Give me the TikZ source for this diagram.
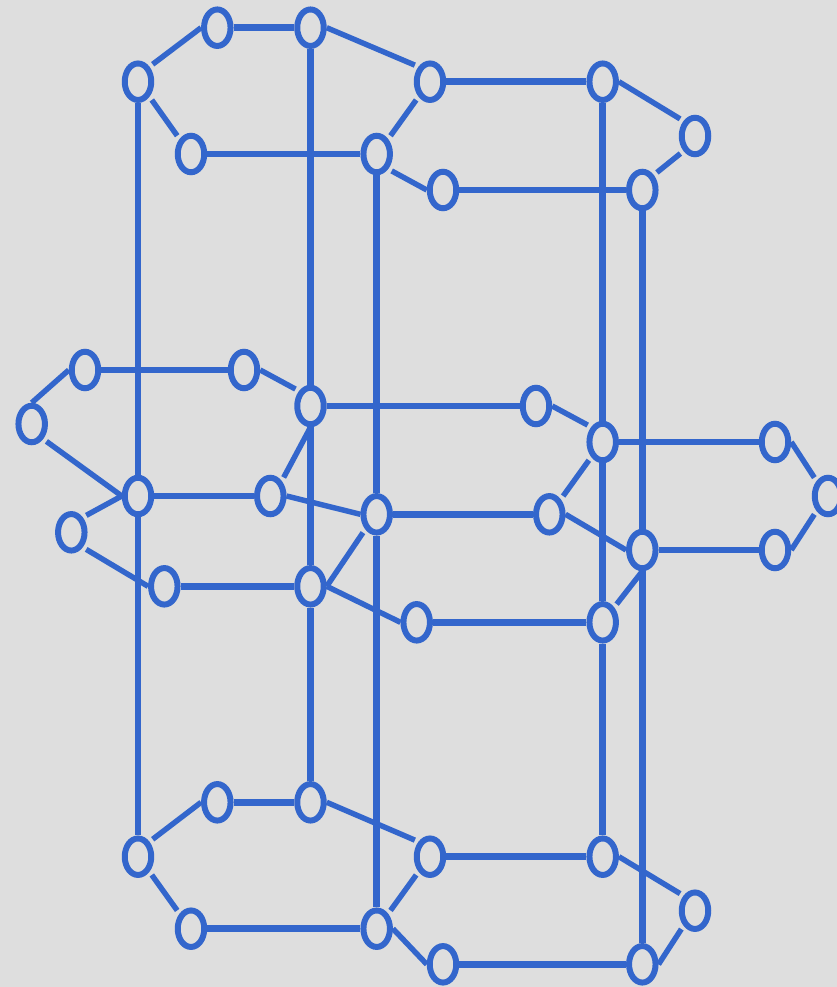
\documentclass[tikz,border=0pt]{standalone}
\usepackage{xcolor}
\usetikzlibrary{shapes,positioning}
\definecolor{graphblue}{HTML}{3366CC}
\definecolor{paneltone}{HTML}{DEDEDE}

\begin{document}
\begin{tikzpicture}
    % Define styles
    \tikzstyle{vertex} = [ellipse, draw=graphblue, line width=1.7pt, inner sep=0pt, minimum width=0.265cm, minimum height=0.365cm]
    \tikzstyle{rail} = [draw=graphblue, line width=1.95pt]
    \tikzstyle{strut} = [draw=graphblue, line width=1.55pt]
    \tikzstyle{gapa} = [shorten <=0.04cm]
    \tikzstyle{gapb} = [shorten >=0.04cm]

    % Background
    \useasboundingbox (0,0) rectangle (8.37,-9.87);
    \fill[paneltone] (0,0) rectangle (8.37,-9.87);

    % Upper ring
    \node[vertex] (upleft) at (1.38,-0.817) {};
    \node[vertex] (uptopa) at (2.173,-0.277) {};
    \node[vertex] (uptopb) at (3.105,-0.277) {};
    \node[vertex] (upfronta) at (4.30,-0.817) {};
    \node[vertex] (upfrontb) at (6.027,-0.817) {};
    \node[vertex] (upright) at (6.95,-1.36) {};
    \node[vertex] (upbackb) at (6.423,-1.90) {};
    \node[vertex] (upbacka) at (4.43,-1.90) {};
    \node[vertex] (upmid) at (3.767,-1.54) {};
    \node[vertex] (uplow) at (1.91,-1.54) {};

    % Middle ring
    \node[vertex] (midfar) at (0.317,-4.24) {};
    \node[vertex] (midtopa) at (0.85,-3.70) {};
    \node[vertex] (midtopb) at (2.44,-3.70) {};
    \node[vertex] (midhuba) at (3.105,-4.06) {};
    \node[vertex] (midtopc) at (5.36,-4.06) {};
    \node[vertex] (midhubb) at (6.027,-4.42) {};
    \node[vertex] (midrighta) at (7.75,-4.42) {};
    \node[vertex] (midend) at (8.28,-4.96) {};
    \node[vertex] (midrightb) at (7.75,-5.50) {};
    \node[vertex] (midhubc) at (6.423,-5.50) {};
    \node[vertex] (midinb) at (5.493,-5.143) {};
    \node[vertex] (midhubd) at (3.767,-5.143) {};
    \node[vertex] (midina) at (2.703,-4.96) {};
    \node[vertex] (midhube) at (1.38,-4.96) {};
    \node[vertex] (midleft) at (0.713,-5.323) {};
    \node[vertex] (midlowa) at (1.643,-5.863) {};
    \node[vertex] (midhubf) at (3.105,-5.863) {};
    \node[vertex] (midlowb) at (4.167,-6.223) {};
    \node[vertex] (midhubg) at (6.027,-6.223) {};

    % Lower ring
    \node[vertex] (lowleft) at (1.38,-8.567) {};
    \node[vertex] (lowtopa) at (2.173,-8.023) {};
    \node[vertex] (lowtopb) at (3.105,-8.023) {};
    \node[vertex] (lowfronta) at (4.30,-8.567) {};
    \node[vertex] (lowfrontb) at (6.027,-8.567) {};
    \node[vertex] (lowright) at (6.95,-9.107) {};
    \node[vertex] (lowbackb) at (6.423,-9.643) {};
    \node[vertex] (lowbacka) at (4.43,-9.643) {};
    \node[vertex] (lowmid) at (3.767,-9.287) {};
    \node[vertex] (lowlow) at (1.91,-9.287) {};

    % Upper ring edges
    \draw[strut, gapa] (upleft.north east) -- (uptopa.west);
    \draw[rail] (uptopa) -- (uptopb);
    \draw[strut, gapb] (uptopb.east) -- (upfronta.north west);
    \draw[rail] (upfronta) -- (upfrontb);
    \draw[strut, gapb] (upfrontb.east) -- (upright.north west);
    \draw[strut, gapa, gapb] (upright.south west) -- (upbackb.north east);
    \draw[rail] (upbackb) -- (upbacka);
    \draw[strut, gapa] (upmid.south east) -- (upbacka.west);
    \draw[rail] (upmid) -- (uplow);
    \draw[strut, gapa, gapb] (upleft.south east) -- (uplow.north west);
    \draw[strut, gapa, gapb] (upfronta.south west) -- (upmid.north east);

    % Middle ring edges
    \draw[strut] (midfar.north) -- (midtopa.west);
    \draw[rail] (midtopa) -- (midtopb);
    \draw[strut, gapb] (midtopb.east) -- (midhuba.north west);
    \draw[rail] (midhuba) -- (midtopc);
    \draw[strut, gapb] (midtopc.east) -- (midhubb.north west);
    \draw[rail] (midhubb) -- (midrighta);
    \draw[strut, gapb] (midrighta.east) -- (midend.north west);
    \draw[strut, gapb] (midrightb.east) -- (midend.south west);
    \draw[rail] (midrightb) -- (midhubc);
    \draw[strut] (midinb.east) -- (midhubc.west);
    \draw[strut, gapa, gapb] (midinb.north east) -- (midhubb.south west);
    \draw[rail] (midinb) -- (midhubd);
    \draw[strut] (midina.east) -- (midhubd.west);
    \draw[strut, gapa] (midina.north east) -- (midhuba.south);
    \draw[rail] (midina) -- (midhube);
    \draw[strut, gapa] (midfar.south east) -- (midhube.west);
    \draw[strut, gapa] (midleft.north east) -- (midhube.west);
    \draw[strut, gapa] (midleft.south east) -- (midlowa.west);
    \draw[rail] (midlowa) -- (midhubf);
    \draw[strut, gapb] (midhubf.east) -- (midhubd.south west);
    \draw[strut] (midhubf.east) -- (midlowb.west);
    \draw[rail] (midlowb) -- (midhubg);
    \draw[strut, gapa] (midhubg.north east) -- (midhubc.south);

    % Lower ring edges
    \draw[strut, gapa] (lowleft.north east) -- (lowtopa.west);
    \draw[rail] (lowtopa) -- (lowtopb);
    \draw[strut, gapb] (lowtopb.east) -- (lowfronta.north west);
    \draw[rail] (lowfronta) -- (lowfrontb);
    \draw[strut, gapb] (lowfrontb.east) -- (lowright.north west);
    \draw[strut, gapa] (lowright.south west) -- (lowbackb.east);
    \draw[rail] (lowbackb) -- (lowbacka);
    \draw[strut] (lowmid.east) -- (lowbacka.west);
    \draw[rail] (lowmid) -- (lowlow);
    \draw[strut, gapa, gapb] (lowleft.south east) -- (lowlow.north west);
    \draw[strut, gapa, gapb] (lowfronta.south west) -- (lowmid.north east);

    % Columns
    \draw[rail] (upleft) -- (midhube);
    \draw[rail] (midhube) -- (lowleft);
    \draw[rail] (uptopb) -- (midhuba);
    \draw[rail] (midhuba) -- (midhubf);
    \draw[rail] (midhubf) -- (lowtopb);
    \draw[rail] (upmid) -- (midhubd);
    \draw[rail] (midhubd) -- (lowmid);
    \draw[rail] (upfrontb) -- (midhubb);
    \draw[rail] (midhubb) -- (midhubg);
    \draw[rail] (midhubg) -- (lowfrontb);
    \draw[rail] (upbackb) -- (midhubc);
    \draw[rail] (midhubc) -- (lowbackb);
\end{tikzpicture}
\end{document}
